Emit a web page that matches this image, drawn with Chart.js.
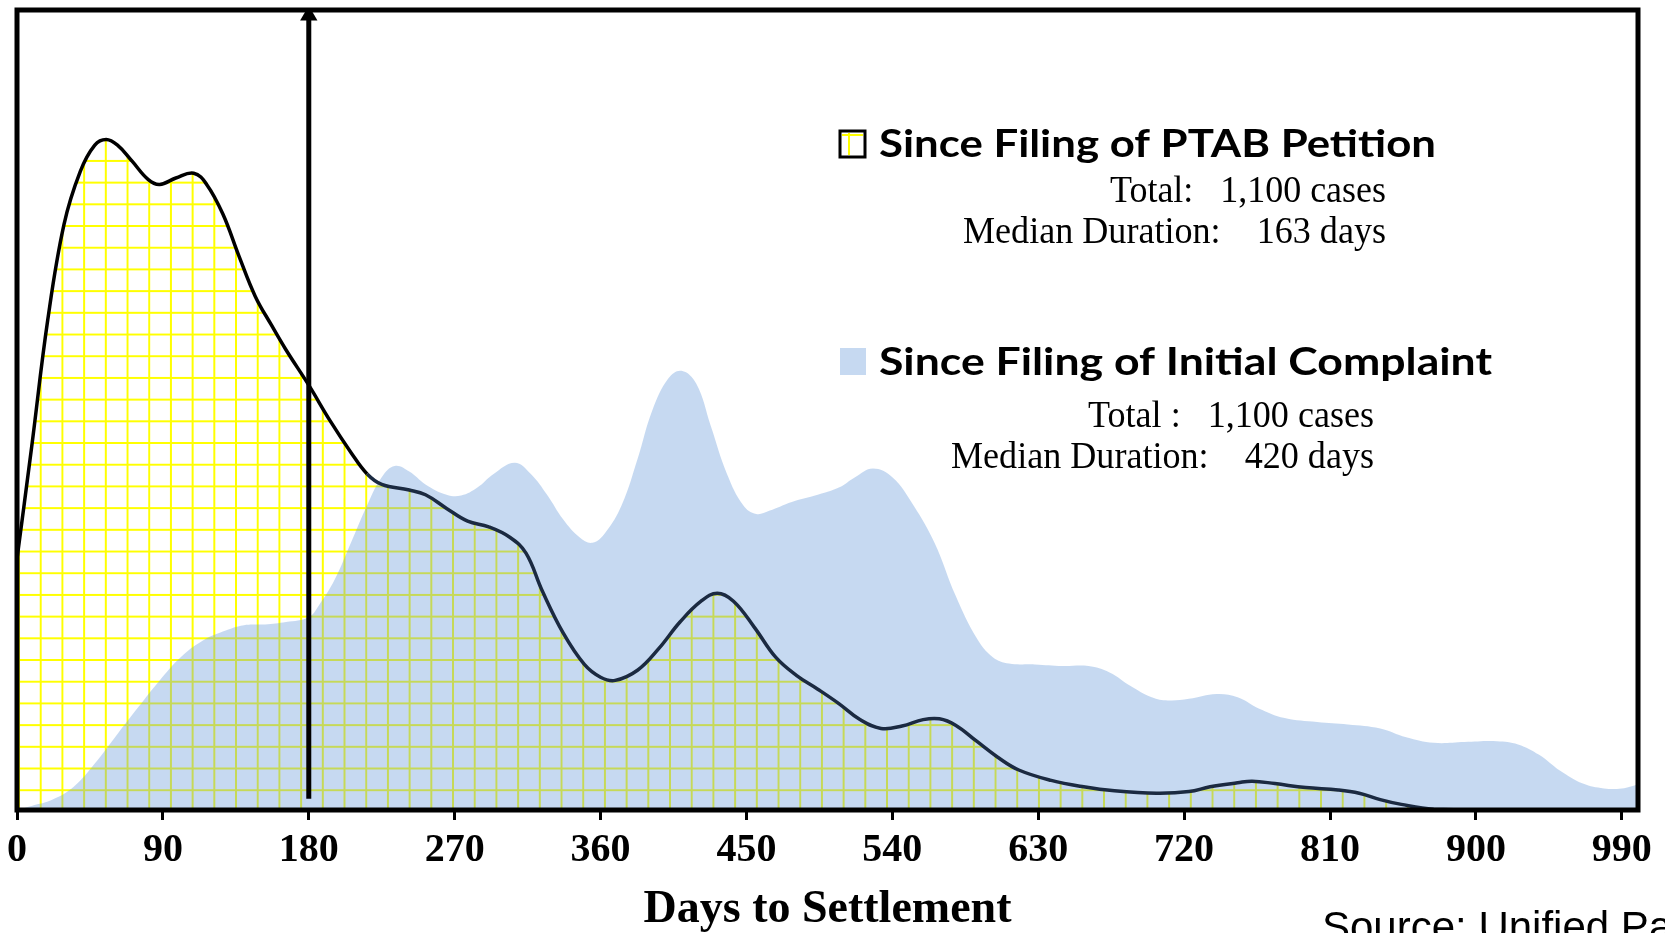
<!DOCTYPE html>
<html>
<head>
<meta charset="utf-8">
<script src="https://cdn.jsdelivr.net/npm/chart.js@4"></script>
<style>
    html, body { margin: 0; padding: 0; background: #fff; }
    canvas { display: block; }
</style>
</head>
<body>
<canvas id="chartSettlement" width="1665" height="933"></canvas>
<script>
// ===========================================
// Days to Settlement - PTAB Petition vs Initial Complaint
// ===========================================

// x axis ticks (days)
const tickValues = [0, 90, 180, 270, 360, 450, 540, 630, 720, 810, 900, 990];

// Since Filing of PTAB Petition (share of cases, arbitrary %)
const ptabDays = [0, 9, 19, 29, 39, 48, 55, 62, 71, 81, 88, 98, 109, 117, 127, 137, 147, 157, 166, 180,
    193, 206, 216, 225, 242, 252, 265, 278, 291, 304, 314, 324, 337, 350, 360, 369, 383, 396, 409, 422,
    432, 442, 455, 468, 481, 494, 507, 520, 533, 546, 559, 569, 579, 592, 605, 618, 638, 658, 677, 703,
    723, 736, 753, 762, 776, 795, 815, 828, 841, 854, 874, 906, 1000];
const ptabShare = [31.4, 45.3, 61.3, 73.2, 79.8, 83.1, 83.8, 83.1, 81.1, 78.8, 78.2, 79.0, 79.6, 78.2, 74.5, 69.2, 64.2, 60.6, 57.5, 53.1,
    48.7, 44.7, 42.0, 40.7, 40.0, 39.4, 37.7, 36.1, 35.4, 34.1, 32.1, 27.4, 22.1, 18.2, 16.6, 16.2, 17.5, 20.2, 23.5, 26.1,
    27.1, 26.1, 22.8, 19.1, 16.8, 15.1, 13.3, 11.3, 10.2, 10.5, 11.3, 11.4, 10.6, 8.6, 6.6, 5.0, 3.7, 2.9, 2.4, 2.1,
    2.3, 2.9, 3.4, 3.6, 3.3, 2.8, 2.5, 2.1, 1.3, 0.7, 0.1, 0, 0];

// Since Filing of Initial Complaint
const complaintDays = [0, 9, 22, 35, 48, 62, 75, 88, 101, 114, 127, 140, 153, 166, 180, 186, 196, 206, 216, 225,
    233, 242, 252, 265, 274, 284, 294, 307, 317, 327, 337, 347, 355, 363, 373, 383, 392, 402, 410, 419,
    428, 438, 448, 456, 464, 478, 494, 507, 517, 528, 540, 553, 566, 579, 592, 602, 612, 628, 645, 661,
    674, 687, 700, 710, 723, 740, 753, 766, 782, 802, 821, 841, 857, 874, 893, 913, 926, 939, 952, 966,
    979, 990, 1000];
const complaintShare = [0, 0.5, 1.3, 2.9, 5.8, 9.5, 12.9, 16.2, 19.1, 21.1, 22.3, 23.1, 23.2, 23.5, 24.1, 25.5, 28.8, 33.4, 38.1, 41.6,
    43.0, 42.3, 40.7, 39.4, 39.3, 40.3, 42.0, 43.4, 42.0, 39.4, 36.3, 34.1, 33.4, 34.7, 38.1, 44.0, 50.0, 54.0, 54.9, 53.3,
    48.0, 42.0, 38.1, 37.0, 37.4, 38.5, 39.4, 40.3, 41.6, 42.7, 41.6, 38.1, 33.4, 26.8, 21.5, 19.1, 18.3, 18.2, 18.0, 18.0,
    17.2, 15.5, 14.1, 13.7, 13.9, 14.5, 14.1, 12.7, 11.5, 11.0, 10.7, 10.2, 9.1, 8.4, 8.5, 8.6, 8.2, 6.9, 4.9, 3.3,
    2.7, 2.7, 3.2];

// median marker (PTAB) arrow
const arrowDays = [180, 180];
const arrowShare = [1.4, 99.3];

const toPoints = (xs, ys) => xs.map((x, i) => ({ x, y: ys[i] }));

// ============================
// yellow grid pattern
// ============================
function makeGridPattern(ctx) {
    const tile = document.createElement('canvas');
    tile.width = 22;
    tile.height = 22;
    const t = tile.getContext('2d');
    t.fillStyle = '#ffff00';
    t.fillRect(0, 0, 2, 22);
    t.fillRect(0, 0, 22, 2);
    const pat = ctx.createPattern(tile, 'repeat');
    if (pat.setTransform) pat.setTransform(new DOMMatrix().translate(18, 8).scale(21.7 / 22));
    return pat;
}

// ============================
// custom legend / frame / source
// ============================
function fitText(ctx, text, x, y, w) {
    const m = ctx.measureText(text).width;
    ctx.save();
    ctx.translate(x, y);
    ctx.scale(w / m, 1);
    ctx.textAlign = 'left';
    ctx.textBaseline = 'alphabetic';
    ctx.fillText(text, 0, 0);
    ctx.restore();
}

const framePlugin = {
    id: 'frame',
    afterDatasetsDraw(chart) {
        const { ctx, chartArea: a } = chart;
        ctx.save();
        ctx.strokeStyle = '#000';
        ctx.lineWidth = 5;
        ctx.strokeRect(a.left, a.top, a.right - a.left, a.bottom - a.top);
        ctx.restore();
    }
};

const legendPlugin = {
    id: 'customLegend',
    afterDraw(chart) {
        const ctx = chart.ctx;
        ctx.save();

        // PTAB marker
        ctx.fillStyle = '#fff';
        ctx.fillRect(840, 131, 25, 26);
        ctx.fillStyle = '#ffff00';
        ctx.fillRect(848, 133, 2, 22);
        ctx.fillRect(842, 134, 21, 2);
        ctx.strokeStyle = '#000';
        ctx.lineWidth = 3;
        ctx.strokeRect(840, 131, 25, 26);

        // Complaint marker
        ctx.fillStyle = '#c6d9f1';
        ctx.fillRect(840, 348, 26, 27);

        ctx.fillStyle = '#000';
        ctx.font = 'bold 38px Lato';
        fitText(ctx, 'Since Filing of PTAB Petition', 879, 157, 557);
        fitText(ctx, 'Since Filing of Initial Complaint', 879, 375, 613);

        ctx.font = '37px "Liberation Serif"';
        fitText(ctx, 'Total:   1,100 cases', 1110, 202, 276);
        fitText(ctx, 'Median Duration:    163 days', 963, 243, 423);
        fitText(ctx, 'Total :   1,100 cases', 1088, 427, 286);
        fitText(ctx, 'Median Duration:    420 days', 951, 468, 423);

        ctx.font = '42px "Liberation Sans"';
        ctx.textAlign = 'left';
        ctx.textBaseline = 'alphabetic';
        ctx.fillText('Source: Unified Patents', 1322, 941);
        ctx.restore();
    }
};

const canvas = document.getElementById('chartSettlement');
const ctx = canvas.getContext('2d');
const gridPattern = makeGridPattern(ctx);

new Chart(ctx, {
    type: 'line',
    data: {
        datasets: [
            {
                // median arrow
                data: toPoints(arrowDays, arrowShare),
                borderColor: '#000',
                borderWidth: 5,
                pointRadius: [0, 10],
                pointStyle: 'triangle',
                pointBackgroundColor: '#000',
                pointBorderWidth: 0,
                fill: false,
                order: 0
            },
            {
                // PTAB outline
                data: toPoints(ptabDays, ptabShare),
                borderWidth: 3.5,
                borderColor: '#000',
                segment: {
                    borderColor: c => c.p0.parsed.x < 212 ? '#000' : '#1b2a41'
                },
                tension: 0.4,
                pointRadius: 0,
                fill: false,
                order: 1
            },
            {
                // Initial complaint (translucent so grid under it turns olive)
                data: toPoints(complaintDays, complaintShare),
                borderWidth: 0,
                backgroundColor: 'rgba(113,160,220,0.4)',
                tension: 0.4,
                pointRadius: 0,
                fill: 'origin',
                order: 2
            },
            {
                // PTAB grid fill
                data: toPoints(ptabDays, ptabShare),
                borderWidth: 0,
                backgroundColor: gridPattern,
                tension: 0.4,
                pointRadius: 0,
                fill: 'origin',
                order: 3
            }
        ]
    },
    options: {
        responsive: false,
        animation: false,
        events: [],
        layout: { padding: { left: 17, right: 27, top: 9, bottom: 0 } },
        plugins: {
            legend: { display: false },
            tooltip: { enabled: false }
        },
        scales: {
            x: {
                type: 'linear',
                min: 0,
                max: 1000,
                afterBuildTicks: axis => { axis.ticks = tickValues.map(v => ({ value: v })); },
                afterFit: axis => { axis.height = 123; },
                border: { display: false },
                grid: {
                    drawOnChartArea: false,
                    drawTicks: true,
                    tickLength: 10,
                    tickWidth: 3,
                    tickColor: '#000'
                },
                ticks: {
                    autoSkip: false,
                    maxRotation: 0,
                    padding: 7,
                    color: '#000',
                    font: { family: '"Liberation Serif"', size: 40, weight: 'bold' }
                },
                title: {
                    display: true,
                    text: 'Days to Settlement',
                    color: '#000',
                    padding: { top: 0, bottom: 0 },
                    font: { family: '"Liberation Serif"', size: 46, weight: 'bold', lineHeight: 1 }
                }
            },
            y: {
                display: false,
                min: 0,
                max: 100
            }
        }
    },
    plugins: [framePlugin, legendPlugin]
});
</script>
</body>
</html>
